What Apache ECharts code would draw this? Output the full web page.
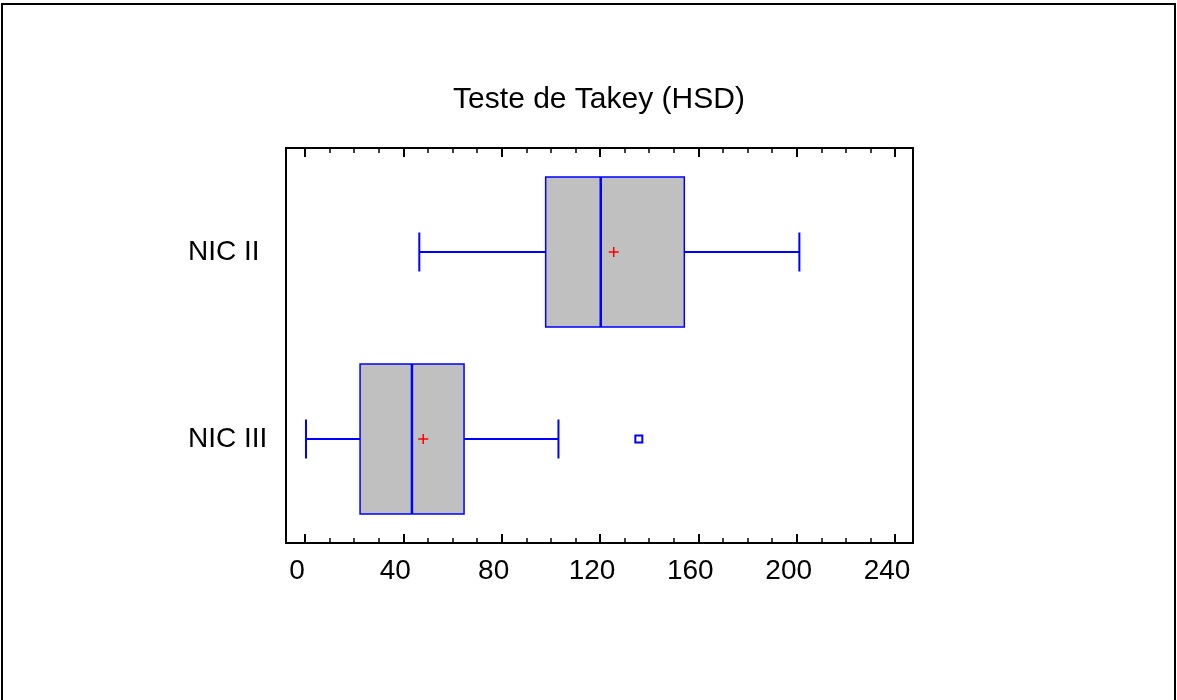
<!DOCTYPE html>
<html>
<head>
<meta charset="utf-8">
<title>Teste de Takey (HSD)</title>
<script src="https://cdn.jsdelivr.net/npm/echarts@6/dist/echarts.min.js"></script>
<style>
  html, body { margin: 0; padding: 0; background: #fff; }
  #chart { width: 1177px; height: 700px; }
</style>
</head>
<body>
<div id="chart"></div>
<script>
// groups, bottom to top
const categories = ['NIC III', 'NIC II'];
// [lower whisker, Q1, median, Q3, upper whisker]
const boxStats = [
  [0.4, 22.4, 43.5, 64.7, 103.1],
  [46.5, 97.9, 120.3, 154.3, 201.1]
];
const means = [48.1, 125.6];
// [value, group index]
const outliers = [[135.8, 0]];
const xMin = 0;
const xMax = 240;
const xStep = 40;

const font = "'Liberation Sans', Arial, sans-serif";
const blue = '#0000ff';

const chart = echarts.init(document.getElementById('chart'));

function renderBox(params, api) {
  const cat = api.value(0);
  const lo = api.coord([api.value(1), cat]);
  const q1 = api.coord([api.value(2), cat]);
  const md = api.coord([api.value(3), cat]);
  const q3 = api.coord([api.value(4), cat]);
  const hi = api.coord([api.value(5), cat]);
  const cy = lo[1];
  const half = 75;
  const cap = 19.5;
  const line = { stroke: blue, lineWidth: 2 };
  return {
    type: 'group',
    children: [
      { type: 'line', shape: { x1: lo[0], y1: cy, x2: q1[0], y2: cy }, style: line },
      { type: 'line', shape: { x1: q3[0], y1: cy, x2: hi[0], y2: cy }, style: line },
      { type: 'line', shape: { x1: lo[0], y1: cy - cap, x2: lo[0], y2: cy + cap }, style: line },
      { type: 'line', shape: { x1: hi[0], y1: cy - cap, x2: hi[0], y2: cy + cap }, style: line },
      {
        type: 'rect',
        shape: { x: q1[0], y: cy - half, width: q3[0] - q1[0], height: half * 2 },
        style: { fill: '#c0c0c0', stroke: blue, lineWidth: 1.5 }
      },
      { type: 'line', shape: { x1: md[0], y1: cy - half, x2: md[0], y2: cy + half }, style: { stroke: blue, lineWidth: 2.5 } }
    ]
  };
}

function renderMean(params, api) {
  const p = api.coord([api.value(1), api.value(0)]);
  const s = 5;
  const st = { stroke: '#ff0000', lineWidth: 1.5 };
  return {
    type: 'group',
    children: [
      { type: 'line', shape: { x1: p[0] - s, y1: p[1], x2: p[0] + s, y2: p[1] }, style: st },
      { type: 'line', shape: { x1: p[0], y1: p[1] - s, x2: p[0], y2: p[1] + s }, style: st }
    ]
  };
}

const tickAxis = {
  gridIndex: 1,
  type: 'value',
  min: xMin,
  max: xMax,
  interval: xStep,
  axisLine: { show: false },
  splitLine: { show: false },
  axisTick: { show: true, inside: true, length: 9, lineStyle: { color: '#000', width: 2 } },
  minorTick: { show: true, splitNumber: 4, length: 5, lineStyle: { color: '#000', width: 1.5 } },
  minorSplitLine: { show: false }
};

const option = {
  animation: false,
  backgroundColor: '#fff',
  graphic: [
    {
      type: 'rect',
      shape: { x: 2, y: 4, width: 1173, height: 800 },
      style: { fill: 'none', stroke: '#000', lineWidth: 2 },
      silent: true
    },
    {
      type: 'text',
      x: 599,
      y: 100,
      style: {
        text: 'Teste de Takey (HSD)',
        font: '30px ' + font,
        fill: '#000',
        textAlign: 'center',
        textVerticalAlign: 'middle'
      }
    }
  ],
  grid: [
    { left: 286, right: 264, top: 148, bottom: 157, show: true, borderColor: '#000', borderWidth: 2, backgroundColor: 'transparent' },
    { left: 305, right: 282, top: 148, bottom: 157 },
    { left: 305, right: 282, top: 158.5, bottom: 167.5 }
  ],
  xAxis: [
    { gridIndex: 0, type: 'value', show: false, min: 0, max: 1 },
    Object.assign({}, tickAxis, {
      position: 'bottom',
      axisLabel: {
        show: true,
        fontFamily: font,
        fontSize: 28,
        color: '#000',
        margin: 14,
        padding: [0, 16, 0, 0]
      }
    }),
    Object.assign({}, tickAxis, { position: 'top', axisLabel: { show: false } }),
    { gridIndex: 2, type: 'value', show: false, min: xMin, max: xMax }
  ],
  yAxis: [
    { gridIndex: 0, type: 'value', show: false },
    { gridIndex: 1, type: 'value', show: false },
    {
      gridIndex: 2,
      type: 'category',
      data: categories,
      boundaryGap: true,
      axisLine: { show: false },
      axisTick: { show: false },
      splitLine: { show: false },
      axisLabel: {
        fontFamily: font,
        fontSize: 28,
        color: '#000',
        align: 'left',
        margin: 117,
        padding: [8, 0, 0, 0]
      }
    }
  ],
  series: [
    {
      type: 'custom',
      xAxisIndex: 3,
      yAxisIndex: 2,
      renderItem: renderBox,
      encode: { x: [1, 2, 3, 4, 5], y: 0 },
      data: boxStats.map((s, i) => [i].concat(s)),
      silent: true
    },
    {
      type: 'custom',
      xAxisIndex: 3,
      yAxisIndex: 2,
      renderItem: renderMean,
      encode: { x: 1, y: 0 },
      data: means.map((m, i) => [i, m]),
      silent: true,
      z: 3
    },
    {
      type: 'scatter',
      xAxisIndex: 3,
      yAxisIndex: 2,
      symbol: 'rect',
      symbolSize: 7,
      itemStyle: { color: '#fff', borderColor: blue, borderWidth: 2, opacity: 1 },
      data: outliers.map(o => [o[0], o[1]]),
      silent: true
    }
  ]
};

chart.setOption(option);
</script>
</body>
</html>
